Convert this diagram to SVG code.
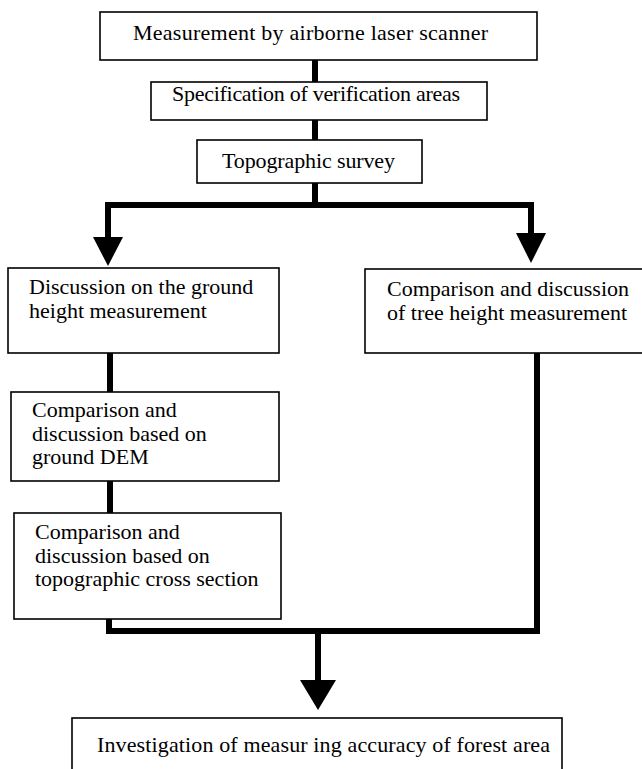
<svg xmlns="http://www.w3.org/2000/svg" width="642" height="769" viewBox="0 0 642 769">
<style>
.box{fill:#fff;stroke:#000;stroke-width:1.6}
.t{font-family:"Liberation Serif","Times New Roman",serif;font-size:22px;fill:#000}
.c{fill:none;stroke:#000;stroke-width:6;stroke-linejoin:miter}
.h{fill:#000;stroke:none}
</style>
<rect width="642" height="769" fill="#fff"/>
<g id="connectors">
<path class="c" d="M315,60 V82"/>
<path class="c" d="M315,120 V140"/>
<path class="c" d="M315,183 V205"/>
<path class="c" d="M108,240 V205 H531 V236"/>
<polygon class="h" points="93,237 123,237 108,266"/>
<polygon class="h" points="516,233 546,233 531,263"/>
<path class="c" d="M110,353 V392"/>
<path class="c" d="M110,481 V513"/>
<path class="c" d="M109,619 V631 H537 V353"/>
<path class="c" d="M318,631 V682"/>
<polygon class="h" points="300,680 336,680 318,710"/>
</g>
<g id="n1"><rect class="box" x="100" y="12" width="437" height="48"/><text class="t" x="133" y="40" textLength="355">Measurement by airborne laser scanner</text></g>
<g id="n2"><rect class="box" x="151" y="82" width="336" height="38"/><text class="t" x="172" y="101" textLength="288">Specification of verification areas</text></g>
<g id="n3"><rect class="box" x="197" y="140" width="225" height="43"/><text class="t" x="222" y="168" textLength="173">Topographic survey</text></g>
<g id="n4"><rect class="box" x="8" y="268" width="271" height="85"/><text class="t" x="29" y="294">Discussion on the ground</text><text class="t" x="29" y="318">height measurement</text></g>
<g id="n5"><rect class="box" x="365" y="269" width="280" height="84"/><text class="t" x="387" y="296">Comparison and discussion</text><text class="t" x="387" y="319.5">of tree height measurement</text></g>
<g id="n6"><rect class="box" x="11" y="392" width="268" height="89"/><text class="t" x="32" y="417">Comparison and</text><text class="t" x="32" y="440.5">discussion based on</text><text class="t" x="32" y="464">ground DEM</text></g>
<g id="n7"><rect class="box" x="14" y="513" width="267" height="106"/><text class="t" x="35" y="539">Comparison and</text><text class="t" x="35" y="562.5">discussion based on</text><text class="t" x="35" y="586">topographic cross section</text></g>
<g id="n8"><rect class="box" x="72" y="718" width="490" height="70"/><text class="t" x="97" y="752" textLength="453">Investigation of measur ing accuracy of forest area</text></g>
</svg>
